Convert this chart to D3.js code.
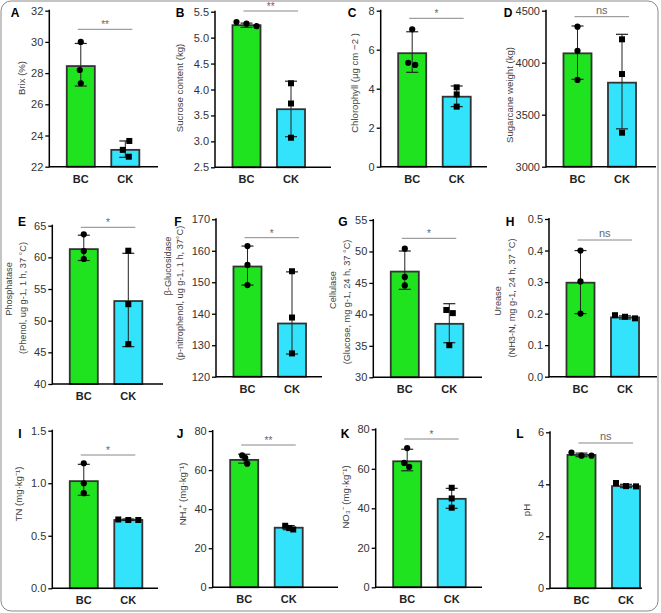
<!DOCTYPE html>
<html><head><meta charset="utf-8">
<script src="https://cdn.jsdelivr.net/npm/d3@7"></script>
<style>body{margin:0;background:#fff}svg{display:block;font-family:"Liberation Sans",Arial,sans-serif}</style>
</head><body><svg id="c" width="661" height="613"></svg>
<script>
// ---------- DATA ----------
const groups = ["BC", "CK"];
const panelLetters = ["A","B","C","D","E","F","G","H","I","J","K","L"];
const yLabels = [
  ["Brix (%)"],
  ["Sucrose content (kg)"],
  ["Chlorophyll (μg cm −2 )"],
  ["Sugarcane weight (kg)"],
  ["Phosphatase", "(Phenol, ug g-1, 1 h, 37 °C)"],
  ["β-Glucosidase", "(p-nitrophenol, ug g-1, 1 h, 37°C)"],
  ["Cellulase", "(Glucose, mg g-1, 24 h, 37 °C)"],
  ["Urease", "(NH3-N, mg g-1, 24 h, 37 °C)"],
  ["TN (mg·kg⁻¹)"],
  ["NH₄⁺ (mg·kg⁻¹)"],
  ["NO₃⁻ (mg·kg⁻¹)"],
  ["pH"]
];
const yDomains = [[22,32],[2.5,5.5],[0,8],[3000,4500],[40,65],[120,170],[30,55],[0,0.5],[0,1.5],[0,80],[0,80],[0,6]];
const yTicks = [
  [22,24,26,28,30,32],
  [2.5,3.0,3.5,4.0,4.5,5.0,5.5],
  [0,2,4,6,8],
  [3000,3500,4000,4500],
  [40,45,50,55,60,65],
  [120,130,140,150,160,170],
  [30,35,40,45,50,55],
  [0,0.1,0.2,0.3,0.4,0.5],
  [0,0.5,1.0,1.5],
  [0,20,40,60,80],
  [0,20,40,60,80],
  [0,2,4,6]
];
const tickFormats = ["d",".1f","d","d","d","d","d",".1f",".1f","d","d","d"];
const bcMean = [28.45, 5.24, 5.82, 4090, 61.3, 155.0, 46.8, 0.298, 1.02, 65.2, 63.8, 5.13];
const ckMean = [23.08, 3.62, 3.59, 3808, 53.1, 136.9, 38.5, 0.188, 0.65, 30.5, 44.8, 3.93];
// error bars as [low, high]
const bcErr = [[27.17,29.9],[5.20,5.28],[4.84,6.92],[3840,4353],[59.5,63.5],[149.1,161.5],
               [43.98,50.07],[0.20,0.40],[0.885,1.18],[63.5,68.1],[59.0,69.9],[5.06,5.20]];
const ckErr = [[22.6,23.65],[3.09,4.16],[3.08,4.14],[3364,4273],[45.9,60.64],[127.2,153.3],
               [35.5,41.7],[0.183,0.193],[0.645,0.66],[29.5,31.6],[40.0,50.1],[3.87,4.0]];
const bcPoints = [
  [30.0, 28.2, 27.35],
  [5.30, 5.27, 5.22],
  [7.05, 5.33, 5.22],
  [4346, 4115, 3834],
  [63.64, 61.0, 59.74],
  [161.5, 155.5, 149.1],
  [50.45, 45.95, 44.6],
  [0.40, 0.302, 0.20],
  [1.19, 1.0, 0.905],
  [67.5, 66.2, 63.3],
  [70.5, 63.0, 61.0],
  [5.22, 5.10, 5.10]
];
const ckPoints = [
  [23.65, 23.08, 22.64],
  [4.12, 3.73, 3.07],
  [4.07, 3.71, 3.08],
  [4225, 3891, 3327],
  [61.05, 52.6, 46.3],
  [153.5, 138.8, 127.4],
  [40.7, 40.2, 35.1],
  [0.195, 0.19, 0.185],
  [0.655, 0.65, 0.65],
  [31.5, 30.3, 29.6],
  [50.4, 45.0, 40.3],
  [4.05, 3.93, 3.92]
];
const sigLabels = ["**","**","*","ns","*","*","*","ns","*","**","*","ns"];

// ---------- LAYOUT / STYLE ----------
const layout = [
  {ax:49.3, xEnd:158, top:10.7, bot:166.7, labX:[21.7], labY:[78], let:[15,13], sigDy:18.6},
  {ax:215, xEnd:331, top:11.7, bot:167.3, labX:[180], labY:[88], let:[180,13], sigDy:-0.7},
  {ax:380.7, xEnd:487, top:10.7, bot:166.7, labX:[355], labY:[83], let:[352,13], sigDy:7.6},
  {ax:546, xEnd:656, top:10.7, bot:166.7, labX:[510], labY:[95], let:[508,13], sigDy:6},
  {ax:52.3, xEnd:163, top:225.7, bot:384, labX:[9,23], labY:[289,298], let:[22,222], sigDy:1.6},
  {ax:216, xEnd:322, top:219.3, bot:376.7, labX:[168,180], labY:[266,293], let:[178,222], sigDy:18.4},
  {ax:373.3, xEnd:482, top:220, bot:377.3, labX:[333,347], labY:[290,302], let:[343,222], sigDy:18.3},
  {ax:549, xEnd:657, top:219, bot:376.7, labX:[498,512], labY:[301,298], let:[510,222], sigDy:21},
  {ax:52.3, xEnd:158, top:430.7, bot:588.3, labX:[19], labY:[494], let:[20,434], sigDy:24.3},
  {ax:212.7, xEnd:338, top:431, bot:587.3, labX:[183], labY:[494], let:[180,434], sigDy:14},
  {ax:375.7, xEnd:482, top:429.3, bot:587.3, labX:[346], labY:[497], let:[345,434], sigDy:9.7},
  {ax:550, xEnd:642, top:432.3, bot:588.3, labX:[527], labY:[510], let:[520,434], sigDy:10.7}
];
const pointOffsets = [
  [[0,-1,0],[4,-2.5,3.5]],
  [[-10,0,10],[0,0,0]],
  [[0,-4,3],[0,0,0]],
  [[0,0,0],[0,0,0]],
  [[0,0,0],[0,0,0]],
  [[0,0,0],[0,0,0]],
  [[0,0,0],[-3,3.5,0]],
  [[0,0,0],[-10,0,10]],
  [[0,0,0],[-10,0,10]],
  [[-2,1,3],[-3.5,0.5,4.5]],
  [[0,-3,2],[0,0,0]],
  [[-10,0,10],[-10,0,10]]
];
const barColors = {BC:"#1fe31f", CK:"#33e2fb"};

const svg = d3.select("#c");
svg.append("rect").attr("x",1).attr("y",1).attr("width",657).attr("height",610)
  .attr("rx",10).attr("fill","none").attr("stroke","#8a8a8a").attr("stroke-width",1);

layout.forEach((L, i) => {
  const g = svg.append("g");
  const y = d3.scaleLinear().domain(yDomains[i]).range([L.bot, L.top]);
  const x = d3.scaleBand().domain(groups).range([L.ax + 1, L.ax + 106.5])
    .paddingInner(0.37).paddingOuter(0.37);
  const bw = x.bandwidth();
  const cx = k => x(k) + bw / 2;

  const means = {BC: bcMean[i], CK: ckMean[i]};
  const errs = {BC: bcErr[i], CK: ckErr[i]};
  const pts = {BC: bcPoints[i], CK: ckPoints[i]};
  groups.forEach(k => {
    g.append("rect").attr("x", x(k)).attr("width", bw)
      .attr("y", y(means[k])).attr("height", L.bot - y(means[k]))
      .attr("fill", barColors[k]).attr("stroke", "#333").attr("stroke-width", 1.8);
  });

  const ax = g.append("g").attr("transform", `translate(${L.ax},0)`)
    .call(d3.axisLeft(y).tickValues(yTicks[i]).tickFormat(d3.format(tickFormats[i]))
      .tickSize(4).tickSizeOuter(0).tickPadding(2));
  ax.select(".domain").attr("stroke", "#000").attr("stroke-width", 1.5)
    .attr("d", `M0,${L.bot + 0.75}V${L.top - 1}`);
  ax.selectAll(".tick line").attr("stroke", "#000").attr("stroke-width", 1.3);
  ax.selectAll(".tick text").attr("fill", "#333").attr("font-size", 11)
    .attr("font-family", '"Liberation Sans",Arial,sans-serif');

  g.append("line").attr("x1", L.ax).attr("x2", L.xEnd).attr("y1", L.bot).attr("y2", L.bot)
    .attr("stroke", "#000").attr("stroke-width", 1.5);
  groups.forEach(k => {
    g.append("text").attr("x", cx(k)).attr("y", L.bot + 16).attr("text-anchor", "middle")
      .attr("font-size", 11).attr("font-weight", "bold").attr("fill", "#222").text(k);
  });

  groups.forEach(k => {
    const hi = y(errs[k][1]), lo = y(errs[k][0]);
    const c = cx(k);
    g.append("line").attr("x1", c).attr("x2", c).attr("y1", hi).attr("y2", lo)
      .attr("stroke", "#222").attr("stroke-width", 1);
    [hi, lo].forEach(yy => g.append("line").attr("x1", c - 6).attr("x2", c + 6)
      .attr("y1", yy).attr("y2", yy).attr("stroke", "#222").attr("stroke-width", 1.2));
  });

  pts.BC.forEach((v, j) => {
    g.append("circle").attr("cx", cx("BC") + pointOffsets[i][0][j]).attr("cy", y(v))
      .attr("r", 3.1).attr("fill", "#000");
  });
  pts.CK.forEach((v, j) => {
    g.append("rect").attr("x", cx("CK") + pointOffsets[i][1][j] - 3).attr("y", y(v) - 3)
      .attr("width", 6).attr("height", 6).attr("fill", "#000");
  });

  const sy = L.top + L.sigDy;
  const sx1 = cx("BC") - 3, sx2 = cx("CK") + 7;
  g.append("line").attr("x1", sx1).attr("x2", sx2).attr("y1", sy).attr("y2", sy)
    .attr("stroke", "#888").attr("stroke-width", 1);
  g.append("text").attr("x", (sx1 + sx2) / 2).attr("y", sy - (sigLabels[i] === "ns" ? 3 : 1))
    .attr("text-anchor", "middle").attr("font-size", sigLabels[i] === "ns" ? 11 : 10)
    .attr("fill", "#666").text(sigLabels[i]);

  yLabels[i].forEach((t, j) => {
    g.append("text").attr("transform", `translate(${L.labX[j]},${L.labY[j]}) rotate(-90)`)
      .attr("text-anchor", "middle").attr("dy", "0.35em")
      .attr("font-size", yLabels[i].length > 1 ? 9.2 : 9.6)
      .attr("fill", "#444").text(t);
  });

  g.append("text").attr("x", L.let[0]).attr("y", L.let[1]).attr("dy", "0.35em")
    .attr("text-anchor", "middle").attr("font-size", 12).attr("font-weight", "bold")
    .attr("fill", "#000").text(panelLetters[i]);
});
</script></body></html>
